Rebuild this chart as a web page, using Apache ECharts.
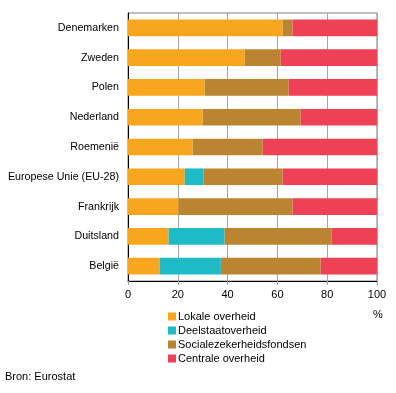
<!DOCTYPE html>
<html><head><meta charset="utf-8">
<script src="https://cdn.jsdelivr.net/npm/echarts@6/dist/echarts.min.js"></script>
<style>html,body{margin:0;padding:0;background:#fff}#c{width:396px;height:393px}</style>
</head><body><div id="c"></div>
<script>
const categories = ["Denemarken","Zweden","Polen","Nederland","Roemenië","Europese Unie (EU-28)","Frankrijk","Duitsland","België"];
const lokale     = [62.1, 46.9, 30.8, 30.0, 26.0, 22.8, 20.3, 16.3, 12.7];
const deelstaat  = [0, 0, 0, 0, 0, 7.5, 0, 22.5, 24.6];
const sociale    = [4.0, 14.4, 33.7, 39.3, 28.1, 31.8, 45.8, 43.0, 40.1];
const centrale   = [33.9, 38.7, 35.5, 30.7, 45.9, 37.9, 33.9, 18.2, 22.6];
const seriesNames = ["Lokale overheid","Deelstaatoverheid","Socialezekerheidsfondsen","Centrale overheid"];
const xTicks = [0, 20, 40, 60, 80, 100];
const colors = ["#f8a61e","#1ebbc6","#bb8430","#ef4156"];
const font = "Liberation Sans, Arial, sans-serif";

const chart = echarts.init(document.getElementById('c'), null, {renderer:'canvas'});
const datas = [lokale, deelstaat, sociale, centrale];
chart.setOption({
  animation:false,
  textStyle:{fontFamily:font},
  grid:{left:128, right:19, top:13, bottom:112, show:true, borderColor:'#808080', borderWidth:1},
  xAxis:{type:'value', min:xTicks[0], max:xTicks[xTicks.length-1], interval:20,
    axisLine:{show:true, lineStyle:{color:'#000', width:1}},
    axisTick:{show:true, length:4, lineStyle:{color:'#a0a0a0'}},
    axisLabel:{color:'#000', fontSize:11, fontFamily:font, margin:8},
    splitLine:{show:true, lineStyle:{color:'#a6a6a6', width:1}}},
  yAxis:{type:'category', data:categories, inverse:true,
    axisLine:{show:true, lineStyle:{color:'#000', width:1}},
    axisTick:{show:false},
    axisLabel:{color:'#000', fontSize:10.7, fontFamily:font, margin:9}},
  legend:{orient:'vertical', left:163, top:305, itemWidth:8, itemHeight:8, itemGap:1,
    icon:'rect', data:seriesNames,
    textStyle:{fontSize:11, fontFamily:font, color:'#000', padding:[0,0,0,-3], lineHeight:13}},
  graphic:[
    {type:'text', left:373, top:309, style:{text:'%', fontSize:11, fontFamily:font, fill:'#000'}},
    {type:'text', left:5, top:371, style:{text:'Bron: Eurostat', fontSize:11, fontFamily:font, fill:'#000'}}
  ],
  series: seriesNames.map((n,i)=>({
    name:n, type:'bar', stack:'s', data:datas[i], barCategoryGap:'44%',
    itemStyle:{color:colors[i]}, emphasis:{disabled:true}
  }))
});
</script></body></html>
